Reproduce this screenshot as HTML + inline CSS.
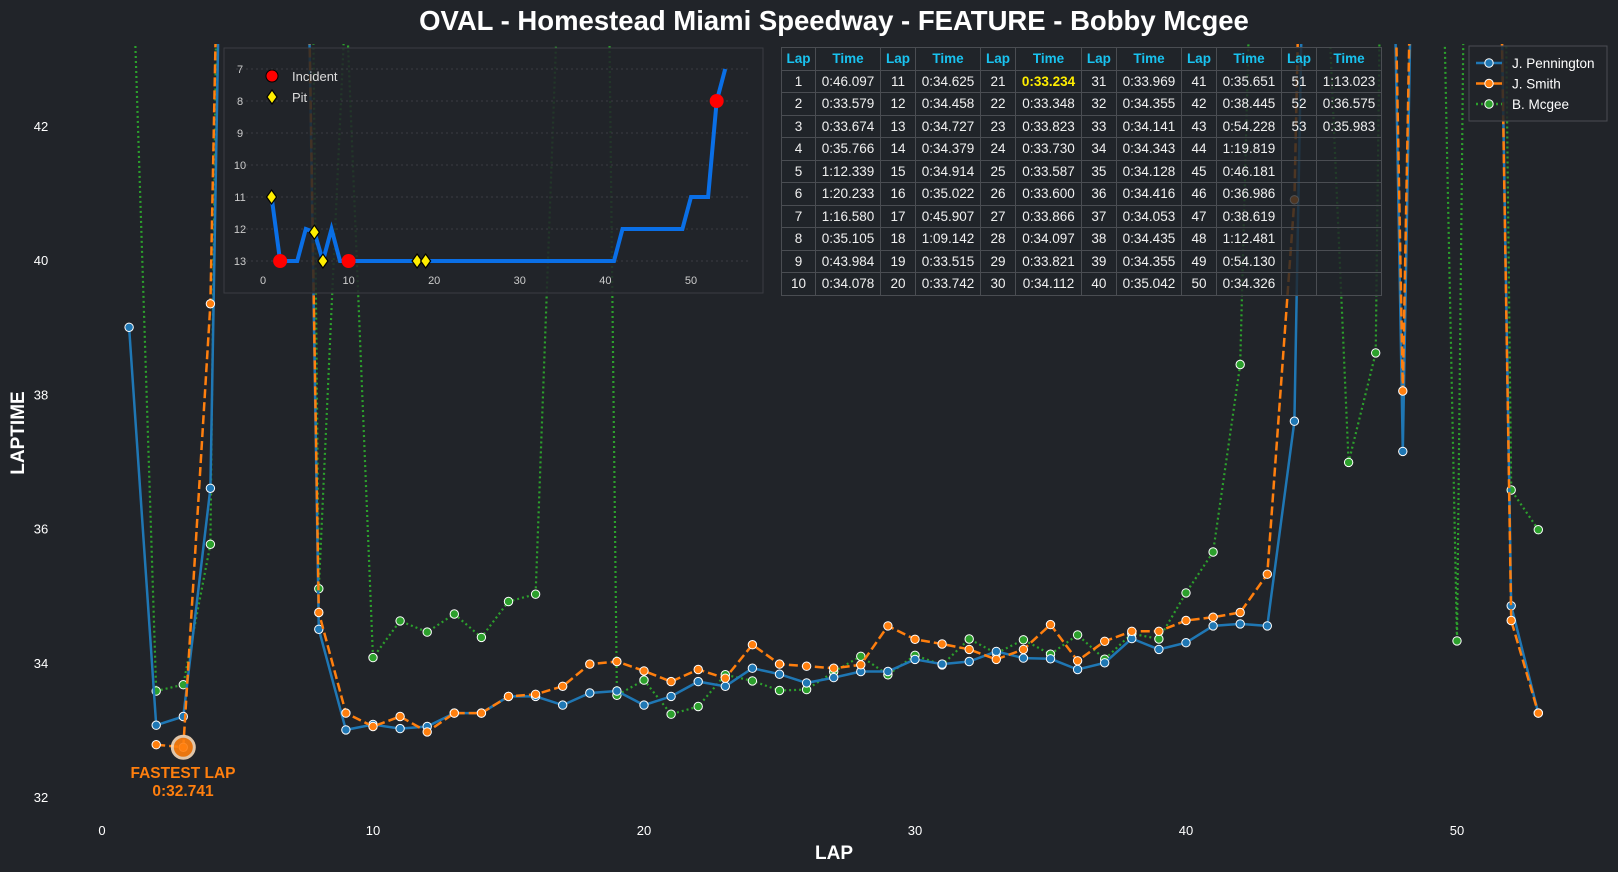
<!DOCTYPE html>
<html><head><meta charset="utf-8"><style>
html,body{margin:0;padding:0;background:#212429;}
body{width:1618px;height:872px;overflow:hidden;position:relative;font-family:"Liberation Sans",sans-serif;}
svg{position:absolute;left:0;top:0;}
table{position:absolute;left:781px;top:47px;width:601px;border-collapse:collapse;font-size:13.5px;color:#f0f0f0;background:rgba(33,36,41,0.8);}
td{border:1px solid #4a4d52;text-align:center;height:21.5px;padding:0;}
tr.h td{color:#19c3f0;font-weight:bold;}
.y{color:#ffee00;font-weight:bold;}
</style></head><body>
<svg id="s" width="1618" height="872" xmlns="http://www.w3.org/2000/svg"></svg>
<table>
<tr class="h"><td style="width:33px">Lap</td><td>Time</td><td style="width:34px">Lap</td><td>Time</td><td style="width:34px">Lap</td><td>Time</td><td style="width:34px">Lap</td><td>Time</td><td style="width:34px">Lap</td><td>Time</td><td style="width:34px">Lap</td><td>Time</td></tr>
<tr><td>1</td><td>0:46.097</td><td>11</td><td>0:34.625</td><td>21</td><td class="y">0:33.234</td><td>31</td><td>0:33.969</td><td>41</td><td>0:35.651</td><td>51</td><td>1:13.023</td></tr>
<tr><td>2</td><td>0:33.579</td><td>12</td><td>0:34.458</td><td>22</td><td>0:33.348</td><td>32</td><td>0:34.355</td><td>42</td><td>0:38.445</td><td>52</td><td>0:36.575</td></tr>
<tr><td>3</td><td>0:33.674</td><td>13</td><td>0:34.727</td><td>23</td><td>0:33.823</td><td>33</td><td>0:34.141</td><td>43</td><td>0:54.228</td><td>53</td><td>0:35.983</td></tr>
<tr><td>4</td><td>0:35.766</td><td>14</td><td>0:34.379</td><td>24</td><td>0:33.730</td><td>34</td><td>0:34.343</td><td>44</td><td>1:19.819</td><td></td><td></td></tr>
<tr><td>5</td><td>1:12.339</td><td>15</td><td>0:34.914</td><td>25</td><td>0:33.587</td><td>35</td><td>0:34.128</td><td>45</td><td>0:46.181</td><td></td><td></td></tr>
<tr><td>6</td><td>1:20.233</td><td>16</td><td>0:35.022</td><td>26</td><td>0:33.600</td><td>36</td><td>0:34.416</td><td>46</td><td>0:36.986</td><td></td><td></td></tr>
<tr><td>7</td><td>1:16.580</td><td>17</td><td>0:45.907</td><td>27</td><td>0:33.866</td><td>37</td><td>0:34.053</td><td>47</td><td>0:38.619</td><td></td><td></td></tr>
<tr><td>8</td><td>0:35.105</td><td>18</td><td>1:09.142</td><td>28</td><td>0:34.097</td><td>38</td><td>0:34.435</td><td>48</td><td>1:12.481</td><td></td><td></td></tr>
<tr><td>9</td><td>0:43.984</td><td>19</td><td>0:33.515</td><td>29</td><td>0:33.821</td><td>39</td><td>0:34.355</td><td>49</td><td>0:54.130</td><td></td><td></td></tr>
<tr><td>10</td><td>0:34.078</td><td>20</td><td>0:33.742</td><td>30</td><td>0:34.112</td><td>40</td><td>0:35.042</td><td>50</td><td>0:34.326</td><td></td><td></td></tr>
</table>
<script>
var s=document.getElementById('s');var h='';
function X(l){return 102+l*27.1;}function Y(v){return 797-(v-32)*67.1;}
h+='<text x="834" y="30" fill="#fff" font-size="27.5" font-weight="bold" text-anchor="middle">OVAL - Homestead Miami Speedway - FEATURE - Bobby Mcgee</text>';
[32,34,36,38,40,42].forEach(function(v){h+='<text x="41" y="'+(Y(v)+5)+'" fill="#fff" font-size="13" text-anchor="middle">'+v+'</text>';});
[0,10,20,30,40,50].forEach(function(l){h+='<text x="'+X(l)+'" y="835" fill="#fff" font-size="13" text-anchor="middle">'+l+'</text>';});
h+='<text x="834" y="859" fill="#fff" font-size="19" font-weight="bold" text-anchor="middle">LAP</text>';
h+='<text transform="translate(24,433) rotate(-90)" fill="#fff" font-size="19" font-weight="bold" text-anchor="middle">LAPTIME</text>';
h+='<defs><clipPath id="c"><rect x="60" y="44" width="1560" height="790"/></clipPath></defs>';
var B=[39.0,33.07,33.2,36.6,60,60,60,34.5,33.0,33.08,33.02,33.05,33.25,33.25,33.5,33.5,33.37,33.55,33.58,33.37,33.5,33.72,33.65,33.92,33.83,33.7,33.78,33.87,33.87,34.05,33.98,34.02,34.17,34.07,34.06,33.9,34.0,34.36,34.2,34.3,34.55,34.58,34.55,37.6,60,60,60,37.15,60,60,60,34.85,33.25];
var O=[null,32.78,32.741,39.35,60,60,60,34.75,33.25,33.05,33.2,32.97,33.25,33.25,33.5,33.53,33.65,33.98,34.02,33.88,33.72,33.9,33.77,34.27,33.98,33.95,33.92,33.97,34.55,34.35,34.28,34.2,34.05,34.2,34.57,34.03,34.32,34.47,34.47,34.63,34.68,34.75,35.32,40.9,60,60,60,38.05,60,60,60,34.63,33.25];
var G=[46.097,33.579,33.674,35.766,72.3,80.2,76.6,35.105,43.984,34.078,34.625,34.458,34.727,34.379,34.914,35.022,45.907,69.1,33.515,33.742,33.234,33.348,33.823,33.730,33.587,33.600,33.866,34.097,33.821,34.112,33.969,34.355,34.141,34.343,34.128,34.416,34.053,34.435,34.355,35.042,35.651,38.445,54.2,79.8,46.18,36.986,38.619,72.5,54.13,34.326,73.0,36.575,35.983];
function ser(d,col,dash,w){var p='';var m='';d.forEach(function(v,i){if(v==null)return;var x=X(i+1),y=Y(v);p+=(p?'L':'M')+x.toFixed(1)+' '+y.toFixed(1);if(v<43.3)m+='<circle cx="'+x.toFixed(1)+'" cy="'+y.toFixed(1)+'" r="4.2" fill="'+col+'" stroke="#fff" stroke-width="1"/>';});
return '<path d="'+p+'" fill="none" stroke="'+col+'" stroke-width="'+w+'" stroke-dasharray="'+dash+'"/>'+m;}
h+='<g clip-path="url(#c)">'+ser(G,'#2ca02c','2 3',2.2)+ser(B,'#1f77b4','',2.5)+ser(O,'#ff7f0e','9 4',2.5)+'</g>';
h+='<circle cx="'+X(3)+'" cy="'+Y(32.741)+'" r="11" fill="#ff7f0e" stroke="#f5d8b8" stroke-width="3" opacity="0.9"/>';
h+='<text x="183" y="778" fill="#ff7f0e" font-size="15.5" font-weight="bold" text-anchor="middle">FASTEST LAP</text><text x="183" y="796" fill="#ff7f0e" font-size="15.5" font-weight="bold" text-anchor="middle">0:32.741</text>';
h+='<rect x="224" y="48" width="539" height="245" fill="rgba(33,36,41,0.85)" stroke="#3a3d42"/>';
function IX(l){return 263+l*8.56;}function IY(p){return 69+(p-7)*32;}
for(var p=7;p<=13;p++){h+='<line x1="236" x2="748" y1="'+IY(p)+'" y2="'+IY(p)+'" stroke="#3a3d42" stroke-dasharray="2 3"/><text x="240" y="'+(IY(p)+4)+'" fill="#ccc" font-size="11" text-anchor="middle">'+p+'</text>';}
[0,10,20,30,40,50].forEach(function(l){h+='<text x="'+IX(l)+'" y="284" fill="#ccc" font-size="11" text-anchor="middle">'+l+'</text>';});
var P={1:11,2:13,3:13,4:13,5:12,6:12.1,7:13,8:12,9:13};for(var l=10;l<=41;l++)P[l]=13;for(l=42;l<=49;l++)P[l]=12;P[50]=11;P[51]=11;P[52]=11;P[53]=8;P[54]=7;
var d='';for(l=1;l<=54;l++)d+=(l>1?'L':'M')+IX(l).toFixed(1)+' '+IY(P[l]).toFixed(1);
h+='<path d="'+d+'" fill="none" stroke="#0a6fe6" stroke-width="4"/>';
[2,10,53].forEach(function(l){h+='<circle cx="'+IX(l)+'" cy="'+IY(P[l])+'" r="7" fill="#ff0000"/>';});
function dia(x,y){return '<path d="M'+x+' '+(y-7)+'L'+(x+5)+' '+y+'L'+x+' '+(y+7)+'L'+(x-5)+' '+y+'Z" fill="#ffee00" stroke="#000" stroke-width="1.2"/>';}
[1,6,7,18,19].forEach(function(l){h+=dia(IX(l),IY(P[l]));});
h+='<circle cx="272" cy="76" r="6" fill="#ff0000" stroke="#000"/><text x="292" y="81" fill="#ddd" font-size="13">Incident</text>'+dia(272,97)+'<text x="292" y="102" fill="#ddd" font-size="13">Pit</text>';
h+='<rect x="1469" y="46" width="138" height="75" fill="rgba(33,36,41,0.85)" stroke="#4a4d52"/>';
[['J. Pennington','#1f77b4',''],['J. Smith','#ff7f0e',''],['B. Mcgee','#2ca02c','2 3']].forEach(function(e,i){var y=63+i*20.5;h+='<line x1="1476" x2="1502" y1="'+y+'" y2="'+y+'" stroke="'+e[1]+'" stroke-width="2.5" stroke-dasharray="'+e[2]+'"/><circle cx="1489" cy="'+y+'" r="4.2" fill="'+e[1]+'" stroke="#fff"/><text x="1512" y="'+(y+5)+'" fill="#fff" font-size="13.5">'+e[0]+'</text>';});
s.innerHTML=h;
</script>
</body></html>
